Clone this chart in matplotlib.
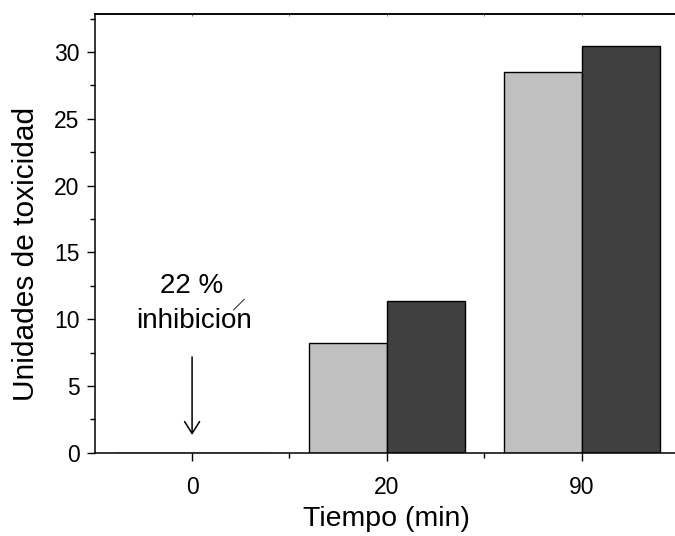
import numpy as np
import matplotlib.pyplot as plt
from matplotlib.ticker import MultipleLocator, FixedLocator

plt.rcParams['font.family'] = ['Liberation Sans', 'DejaVu Sans']

# --- Data ---
tiempos = ['0', '20', '90']
serie_clara = [0, 8.2, 28.5]
serie_oscura = [0, 11.35, 30.45]
x = np.arange(len(tiempos))
w = 0.4

fig = plt.figure(figsize=(6.75, 5.36), dpi=100)
ax = fig.add_axes([0.1403, 0.1554, 0.8656, 0.8185])

ax.bar(x - w / 2, serie_clara, width=w, color='#c0c0c0', edgecolor='black', linewidth=1.0)
ax.bar(x + w / 2, serie_oscura, width=w, color='#404040', edgecolor='black', linewidth=1.0)

ax.set_xlim(-0.5, 2.5)
ax.set_ylim(0, 32.85)
ax.set_xticks(x)
ax.set_xticklabels(tiempos)
ax.xaxis.set_minor_locator(FixedLocator([0.5, 1.5]))
ax.yaxis.set_major_locator(MultipleLocator(5))
ax.yaxis.set_minor_locator(MultipleLocator(2.5))

for s in ax.spines.values():
    s.set_linewidth(1.1)
ax.spines['right'].set_visible(False)

ax.tick_params(axis='both', which='major', direction='out', length=6, width=1.0, labelsize=16.5)
ax.tick_params(axis='x', which='major', pad=11)
ax.tick_params(axis='y', which='major', pad=5)
ax.tick_params(axis='both', which='minor', direction='out', length=3.5, width=1.0)

top = ax.secondary_xaxis('top')
top.set_xticks(x)
top.xaxis.set_minor_locator(FixedLocator([0.5, 1.5]))
top.tick_params(which='both', direction='in', length=1.5, width=0.6, labeltop=False, colors='#555555')
top.spines['top'].set_linewidth(1.1)

ax.set_xlabel('Tiempo (min)', fontsize=20.5, labelpad=5)
ax.set_ylabel('Unidades de toxicidad', fontsize=21.5)
ax.yaxis.set_label_coords(-0.094, 0.453)

# --- Annotation ---
ax.text(0, 11.96, '22 %', fontsize=20, ha='center', va='baseline')
ax.text(0.01, 9.32, 'inhibicion', fontsize=20, ha='center', va='baseline')
ax.plot([0.213, 0.268], [10.69, 11.49], color='black', linewidth=0.6)
ax.annotate('', xy=(0, 1.33), xytext=(0, 7.17),
            arrowprops=dict(arrowstyle='->,head_length=0.43,head_width=0.27',
                            mutation_scale=20, color='black', lw=1.1,
                            shrinkA=0, shrinkB=0))

fig.savefig('out.png', dpi=100)
